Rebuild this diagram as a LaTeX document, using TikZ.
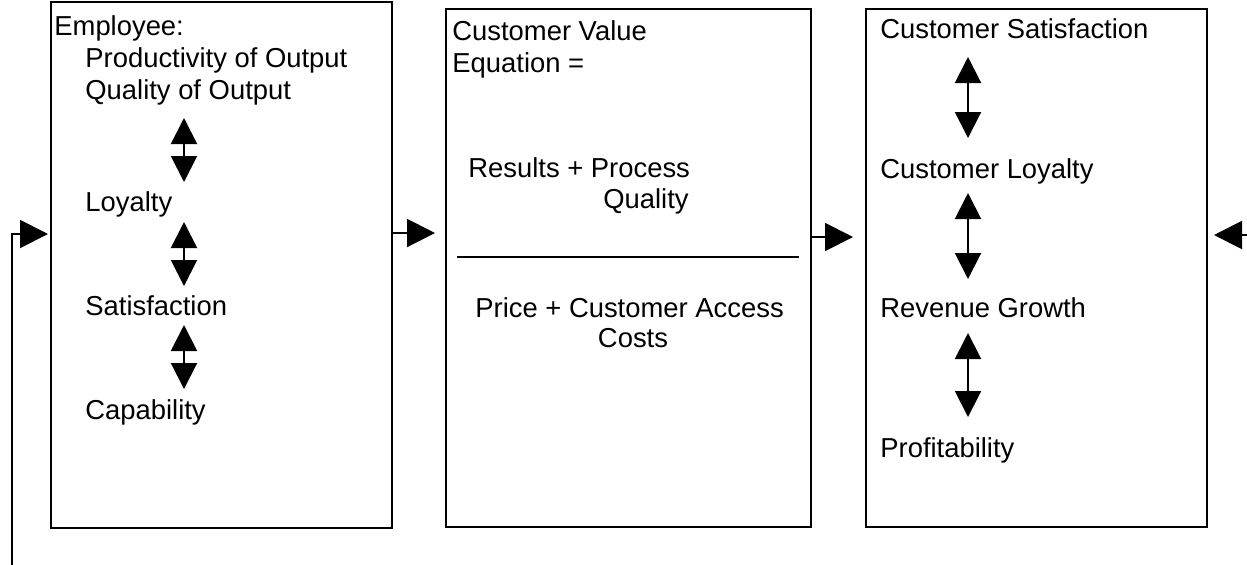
\documentclass[tikz,border=0pt]{standalone}
\usepackage{fontspec}
\setmainfont{Liberation Sans}
\usetikzlibrary{arrows.meta}
\newcommand\diagfont{\fontsize{13.7pt}{16pt}\selectfont}
\tikzset{
  box/.style={draw, line width=1pt, rectangle, inner sep=0pt},
  txt/.style={anchor=base west, inner sep=0pt, font=\diagfont},
  txtr/.style={anchor=base east, inner sep=0pt, font=\diagfont},
  txtc/.style={anchor=base, inner sep=0pt, font=\diagfont},
  flow/.style={line width=1pt, -{Triangle[length=14pt,width=14pt]}},
  dbl/.style={line width=1pt, {Triangle[length=13pt,width=13pt]}-{Triangle[length=13pt,width=13pt]}}
}
\begin{document}
\begin{tikzpicture}[x=0.5pt,y=-0.5pt]
\useasboundingbox (0,0) rectangle (1247,564);
% boxes
\node[box, minimum width=170.5pt, minimum height=263pt] (box1) at (221.5,265) {};
\node[box, minimum width=182.5pt, minimum height=259pt] (box2) at (628.5,268) {};
\node[box, minimum width=170.5pt, minimum height=259pt] (box3) at (1036.5,268) {};
% box 1 texts
\node[txt] (emp) at (54,35) {Employee:};
\node[txt] (prod) at (85,67) {Productivity of Output};
\node[txt] (qual) at (85,99) {Quality of Output};
\node[txt] (loy) at (85,211) {Loyalty};
\node[txt] (sat) at (85,315) {Satisfaction};
\node[txt] (cap) at (85,419) {Capability};
\coordinate (d1a) at (184,118); \coordinate (d1b) at (184,182);
\coordinate (d2a) at (184,222); \coordinate (d2b) at (184,286);
\coordinate (d3a) at (184,325); \coordinate (d3b) at (184,389);
\draw[dbl] (d1a) -- (d1b);
\draw[dbl] (d2a) -- (d2b);
\draw[dbl] (d3a) -- (d3b);
% box 2 texts
\node[txt] (cv) at (452,40) {Customer Value};
\node[txt] (eq) at (452,72) {Equation =};
\node[txt] (res) at (468,177) {Results + Process};
\node[txtr] (rq) at (689,208) {Quality};
\coordinate (divl) at (457,257); \coordinate (divr) at (799,257);
\draw[line width=1pt] (divl) -- (divr);
\node[txt] (price) at (475,317) {Price + Customer Access};
\node[txtc] (costs) at (633,347) {Costs};
% box 3 texts
\node[txt] (csat) at (880,38) {Customer Satisfaction};
\node[txt] (cloy) at (880,178) {Customer Loyalty};
\node[txt] (rev) at (880,317) {Revenue Growth};
\node[txt] (prof) at (880,457) {Profitability};
\coordinate (e1a) at (968,57); \coordinate (e1b) at (968,138);
\coordinate (e2a) at (968,193); \coordinate (e2b) at (968,279);
\coordinate (e3a) at (968,333); \coordinate (e3b) at (968,417);
\draw[dbl] (e1a) -- (e1b);
\draw[dbl] (e2a) -- (e2b);
\draw[dbl] (e3a) -- (e3b);
% connectors
\coordinate (t1) at (435,233);
\draw[flow] (box1.east |- t1) -- (t1);
\coordinate (t2) at (853,237);
\draw[flow] (box2.east |- t2) -- (t2);
\coordinate (fb0) at (12,570);
\coordinate (fbtip) at (48,234);
\draw[flow] (fb0) |- (fbtip);
\coordinate (rin) at (1260,235);
\coordinate (rtip) at (1214,235);
\draw[flow] (rin) -- (rtip);
\end{tikzpicture}
\end{document}
